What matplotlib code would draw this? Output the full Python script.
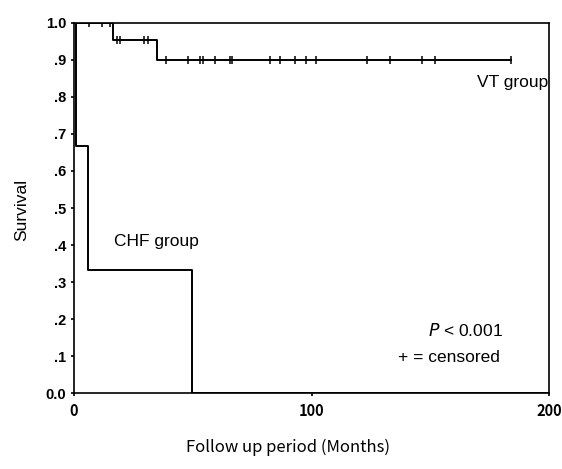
import numpy as np
import matplotlib
matplotlib.use('Agg')
import matplotlib.pyplot as plt

plt.rcParams['font.family'] = ['Liberation Sans', 'DejaVu Sans']

# VT group: step curve (months, survival) and censored times
vt_t = [0, 16.5, 35, 184]
vt_s = [1.0, 0.955, 0.90, 0.90]
vt_censor = [6.3, 11.9, 15.2, 18, 19.4, 29.5, 31.3, 38.6, 48.1, 53, 54.4, 59.4,
             65.7, 66.7, 82.5, 86.7, 93, 97.5, 101.8, 123.2, 133, 146.4, 151.8, 184]

# CHF group: step curve
chf_t = [0, 1, 6, 49.5]
chf_s = [1.0, 0.667, 0.333, 0.0]

ytick_vals = [0.0, 0.1, 0.2, 0.3, 0.4, 0.5, 0.6, 0.7, 0.8, 0.9, 1.0]
ytick_labels = ['0.0', '.1', '.2', '.3', '.4', '.5', '.6', '.7', '.8', '.9', '1.0']
xtick_vals = [0, 100, 200]

JP = ['Noto Sans CJK JP', 'DejaVu Sans']


def surv_at(times, surv, t):
    # value of the step function just after time t
    idx = np.searchsorted(times, t, side='right') - 1
    return np.array(surv)[idx]


fig = plt.figure(figsize=(5.62, 4.69), dpi=100)
ax = fig.add_axes([0.1317, 0.162, 0.8452, 0.789])

ax.step(vt_t, vt_s, where='post', color='black', lw=1.4)
ax.plot(vt_censor, surv_at(vt_t, vt_s, vt_censor), ls='None', marker='|',
        color='black', ms=6, mew=1.1)

ax.step(chf_t + [chf_t[-1]], chf_s + [0.0], where='post', color='black', lw=1.4)
ax.plot([chf_t[-1], 200], [0, 0], color='black', lw=1.4)

ax.set_xlim(0, 200)
ax.set_ylim(0, 1.0)
ax.set_yticks(ytick_vals)
ax.set_yticklabels(ytick_labels, fontsize=10.5, fontweight='bold')
ax.set_xticks(xtick_vals)
ax.set_xticklabels([str(v) for v in xtick_vals], fontsize=10.5, family=JP,
                   fontweight='bold')
ax.tick_params(direction='out', length=2, width=1.2)
ax.tick_params(axis='x', pad=5)
for sp in ax.spines.values():
    sp.set_linewidth(1.2)

ax.text(199.5, 0.838, 'VT group', ha='right', va='center', fontsize=12.5)
ax.text(16.8, 0.41, 'CHF group', ha='left', va='center', fontsize=12.5)
ax.text(165, 0.17, '$P$ < 0.001', ha='center', va='center', fontsize=12.5)
ax.text(158, 0.095, '+ = censored', ha='center', va='center', fontsize=12.5)

fig.text(22 / 562, 1 - 210 / 469, 'Survival', rotation=90, ha='center',
         va='center', fontsize=12.5)
fig.text(288 / 562, 1 - 447 / 469, 'Follow up period (Months)', ha='center',
         va='center', fontsize=12, family=JP)

fig.savefig('out.png', dpi=100)
